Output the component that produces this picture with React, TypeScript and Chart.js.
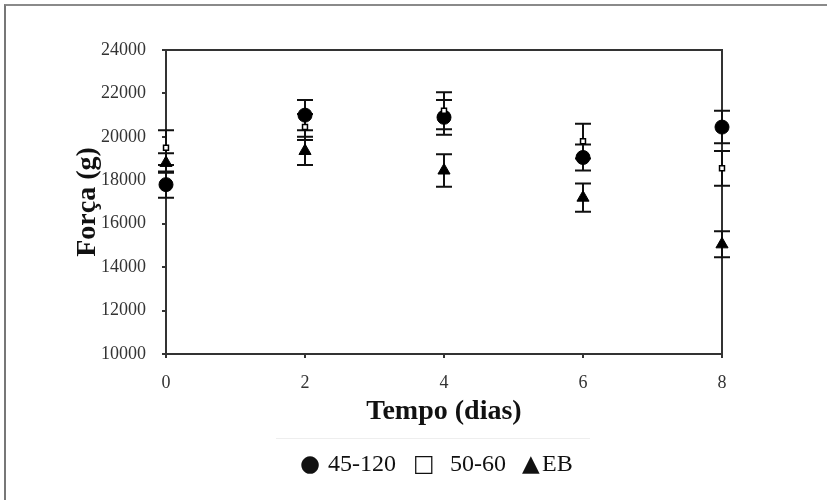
import React, { useEffect, useRef } from "react";
import { Chart, registerables } from "chart.js";

Chart.register(...registerables);

const days = [0, 2, 4, 6, 8];
const xTickLabels = [0, 2, 4, 6, 8];
const yTickLabels = [10000, 12000, 14000, 16000, 18000, 20000, 22000, 24000];

const seriesNames = ["45-120", "50-60", "EB"];
const s45_120 = [17800, 21000, 20900, 19050, 20450];
const s45_120Err = [600, 700, 800, 600, 750];
const s50_60 = [19500, 20450, 21200, 19800, 18550];
const s50_60Err = [800, 600, 850, 800, 800];
const sEB = [18800, 19350, 18450, 17200, 15050];
const sEBErr = [450, 650, 750, 650, 600];

const SERIF = "'Liberation Serif', 'Times New Roman', serif";
const SYMBOL = "'DejaVu Sans', sans-serif";

const errorBarsPlugin = {
  id: "errorBars",
  beforeDatasetsDraw(chart: any) {
    const ctx = chart.ctx;
    const xs = chart.scales.x;
    const ys = chart.scales.y;
    ctx.save();
    ctx.strokeStyle = "#111";
    ctx.lineWidth = 2;
    chart.data.datasets.forEach((ds: any) => {
      ds.data.forEach((p: any, i: number) => {
        const e = ds.errors[i];
        const x = xs.getPixelForValue(p.x);
        const yTop = ys.getPixelForValue(p.y + e);
        const yBot = ys.getPixelForValue(p.y - e);
        const cap = 8;
        ctx.beginPath();
        ctx.moveTo(x, yTop);
        ctx.lineTo(x, yBot);
        ctx.moveTo(x - cap, yTop);
        ctx.lineTo(x + cap, yTop);
        ctx.moveTo(x - cap, yBot);
        ctx.lineTo(x + cap, yBot);
        ctx.stroke();
      });
    });
    ctx.restore();
  },
};

const boxPlugin = {
  id: "plotBox",
  beforeDatasetsDraw(chart: any) {
    const { left, top, right, bottom } = chart.chartArea;
    const ctx = chart.ctx;
    ctx.save();
    ctx.strokeStyle = "#333";
    ctx.lineWidth = 2;
    ctx.strokeRect(left, top, right - left, bottom - top);
    ctx.restore();
  },
};

export default function App() {
  const canvasRef = useRef<HTMLCanvasElement | null>(null);

  useEffect(() => {
    if (!canvasRef.current) return;
    const mk = (vals: number[]) => days.map((d, i) => ({ x: d, y: vals[i] }));
    const chart = new Chart(canvasRef.current, {
      type: "scatter",
      data: {
        datasets: [
          {
            label: seriesNames[0],
            data: mk(s45_120),
            errors: s45_120Err,
            pointStyle: "circle",
            pointRadius: 7,
            backgroundColor: "#000",
            borderColor: "#000",
            borderWidth: 1,
            order: 2,
            clip: false,
          } as any,
          {
            label: seriesNames[1],
            data: mk(s50_60),
            errors: s50_60Err,
            pointStyle: "rect",
            pointRadius: 3.5,
            backgroundColor: "#fff",
            borderColor: "#000",
            borderWidth: 1.5,
            order: 0,
            clip: false,
          } as any,
          {
            label: seriesNames[2],
            data: mk(sEB),
            errors: sEBErr,
            pointStyle: "triangle",
            pointRadius: 7,
            backgroundColor: "#000",
            borderColor: "#000",
            borderWidth: 1,
            order: 1,
            clip: false,
          } as any,
        ],
      },
      options: {
        animation: false,
        responsive: false,
        events: [],
        layout: { padding: { left: 71, top: 50, right: 105, bottom: 71 } },
        plugins: {
          legend: { display: false },
          tooltip: { enabled: false },
        },
        scales: {
          x: {
            type: "linear",
            min: 0,
            max: 8,
            afterBuildTicks: (scale: any) => {
              scale.ticks = xTickLabels.map((v) => ({ value: v }));
            },
            afterFit: (scale: any) => {
              scale.height = 75;
            },
            border: { display: false },
            grid: {
              drawOnChartArea: false,
              drawTicks: true,
              tickLength: 4,
              color: "#333",
              lineWidth: 2,
            },
            ticks: {
              color: "#333",
              padding: 14,
              font: { family: SERIF, size: 18 },
            },
            title: {
              display: true,
              text: "Tempo (dias)",
              color: "#111",
              padding: 0,
              font: { family: SERIF, size: 28, weight: "bold" },
            },
          },
          y: {
            type: "linear",
            min: 10000,
            max: 24000,
            afterBuildTicks: (scale: any) => {
              scale.ticks = yTickLabels.map((v) => ({ value: v }));
            },
            afterFit: (scale: any) => {
              scale.width = 95;
            },
            border: { display: false },
            grid: {
              drawOnChartArea: false,
              drawTicks: true,
              tickLength: 4,
              color: "#333",
              lineWidth: 2,
            },
            ticks: {
              color: "#333",
              padding: 16,
              font: { family: SERIF, size: 18 },
              callback: (v: any) => String(v),
            },
            title: {
              display: true,
              text: "Força (g)",
              color: "#111",
              padding: 0,
              font: { family: SERIF, size: 28, weight: "bold" },
            },
          },
        },
      } as any,
      plugins: [boxPlugin, errorBarsPlugin],
    });
    return () => chart.destroy();
  }, []);

  const legendFont: React.CSSProperties = {
    position: "absolute",
    top: 448,
    fontFamily: SERIF,
    fontSize: 24,
    lineHeight: "30px",
    color: "#111",
    whiteSpace: "nowrap",
  };
  const symFont: React.CSSProperties = {
    ...legendFont,
    fontFamily: SYMBOL,
    fontSize: 23,
  };

  return (
    <div
      style={{
        position: "absolute",
        left: 0,
        top: 0,
        width: 827,
        height: 500,
        background: "#fff",
        overflow: "hidden",
      }}
    >
      <div
        style={{
          position: "absolute",
          left: 4,
          top: 4,
          width: 823,
          height: 496,
          borderTop: "2px solid #8a8a8a",
          borderLeft: "2px solid #777",
        }}
      />
      <div
        style={{
          position: "absolute",
          left: 276,
          top: 438,
          width: 314,
          height: 0,
          borderTop: "1px solid #eeeeee",
        }}
      />
      <canvas
        ref={canvasRef}
        width={827}
        height={500}
        style={{ position: "absolute", left: 0, top: 0, width: 827, height: 500 }}
      />
      <span style={{ ...symFont, left: 300 }}>●</span>
      <span style={{ ...legendFont, left: 328 }}>{seriesNames[0]}</span>
      <span style={{ ...symFont, left: 413 }}>□</span>
      <span style={{ ...legendFont, left: 450 }}>{seriesNames[1]}</span>
      <span style={{ ...symFont, left: 522 }}>▲</span>
      <span style={{ ...legendFont, left: 542 }}>{seriesNames[2]}</span>
    </div>
  );
}
